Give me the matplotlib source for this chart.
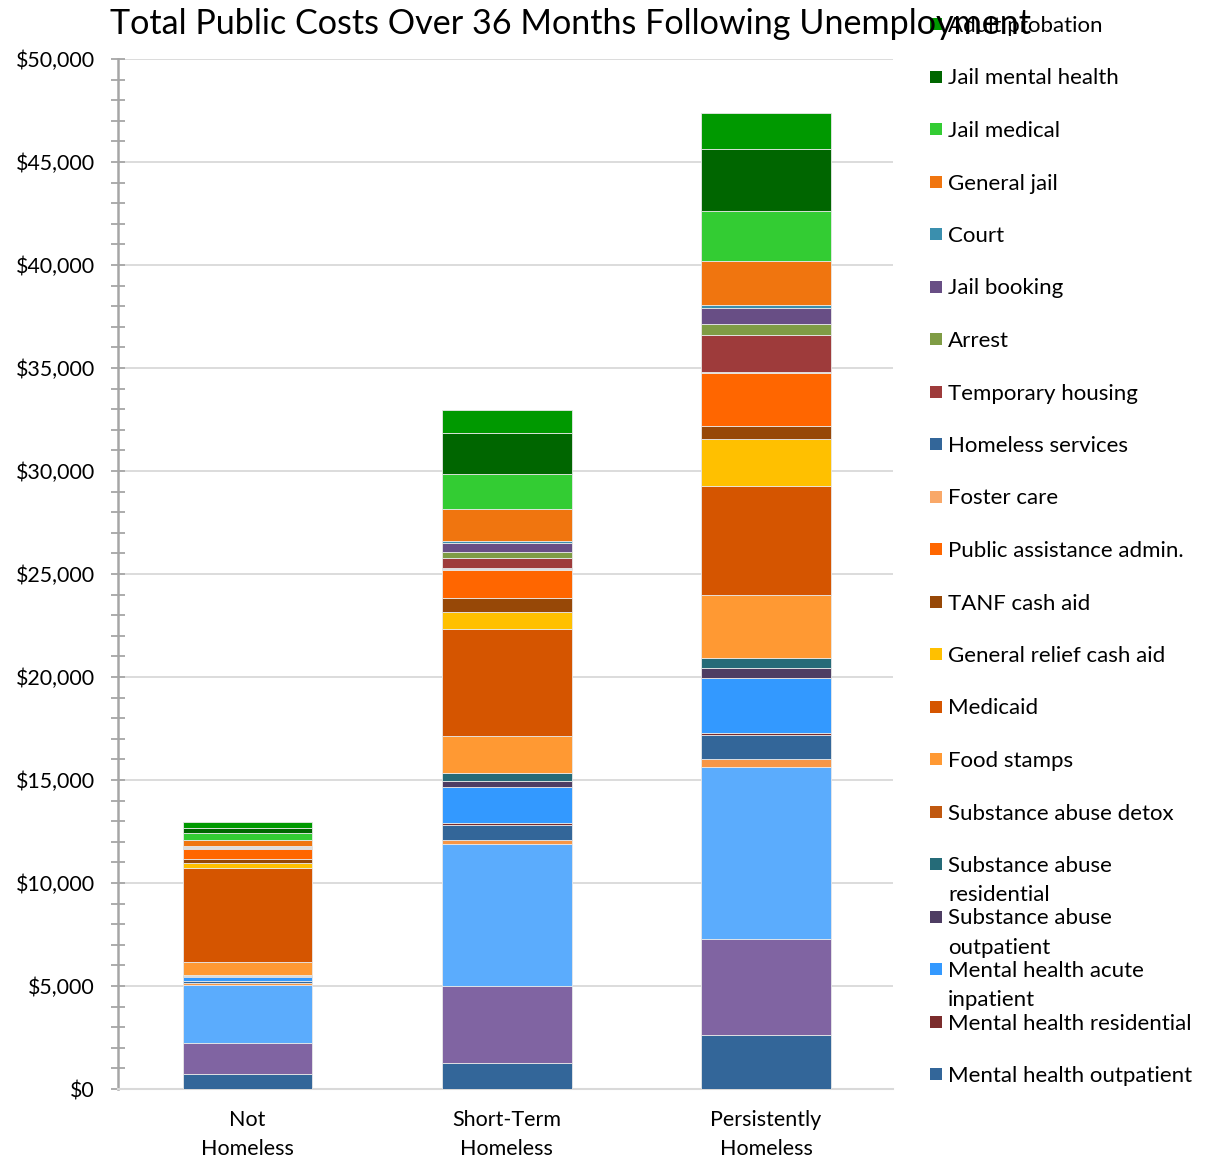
import numpy as np
import matplotlib.pyplot as plt
from matplotlib.patches import Rectangle
from matplotlib.ticker import MultipleLocator, FuncFormatter

plt.rcParams['font.family'] = ['Lato', 'DejaVu Sans']

# groups on the x axis
groups = ['Not\nHomeless', 'Short-Term\nHomeless', 'Persistently\nHomeless']

# cost components, bottom of the stack first (values in $)
# the four lowest series have no legend entry in the original chart
other_1 = [710, 1250, 2620]
other_2 = [1540, 3760, 4650]
other_3 = [2780, 6870, 8380]
other_4 = [110, 190, 350]
mh_outpatient = [100, 760, 1170]
mh_residential = [10, 70, 110]
mh_acute = [210, 1760, 2690]
sa_outpatient = [40, 290, 450]
sa_residential = [10, 380, 490]
sa_detox = [0, 0, 0]
food_stamps = [670, 1810, 3070]
medicaid = [4570, 5210, 5310]
general_relief = [220, 810, 2260]
tanf = [190, 670, 620]
public_assist = [490, 1380, 2570]
foster_care = [20, 50, 60]
homeless_services = [0, 30, 20]
temp_housing = [30, 490, 1780]
arrest = [30, 290, 520]
jail_booking = [50, 450, 780]
court = [20, 70, 140]
general_jail = [270, 1580, 2140]
jail_medical = [370, 1680, 2440]
jail_mental_health = [240, 1980, 3030]
adult_probation = [300, 1130, 1750]

# (label, values, colour, shown in legend)
series = [
    ('Other 1', other_1, '#336699', False),
    ('Other 2', other_2, '#8064A2', False),
    ('Other 3', other_3, '#5BACFD', False),
    ('Other 4', other_4, '#F79646', False),
    ('Mental health outpatient', mh_outpatient, '#336699', True),
    ('Mental health residential', mh_residential, '#7B2C2C', True),
    ('Mental health acute\ninpatient', mh_acute, '#3399FF', True),
    ('Substance abuse\noutpatient', sa_outpatient, '#4E3D63', True),
    ('Substance abuse\nresidential', sa_residential, '#256B78', True),
    ('Substance abuse detox', sa_detox, '#C0580F', True),
    ('Food stamps', food_stamps, '#FF9933', True),
    ('Medicaid', medicaid, '#D55500', True),
    ('General relief cash aid', general_relief, '#FFC000', True),
    ('TANF cash aid', tanf, '#974807', True),
    ('Public assistance admin.', public_assist, '#FF6600', True),
    ('Foster care', foster_care, '#F9A868', True),
    ('Homeless services', homeless_services, '#336699', True),
    ('Temporary housing', temp_housing, '#9E3B3B', True),
    ('Arrest', arrest, '#7F9C45', True),
    ('Jail booking', jail_booking, '#684E85', True),
    ('Court', court, '#3A8FAE', True),
    ('General jail', general_jail, '#F0750F', True),
    ('Jail medical', jail_medical, '#33CC33', True),
    ('Jail mental health', jail_mental_health, '#006600', True),
    ('Adult probation', adult_probation, '#009900', True),
]

W, H = 1211, 1159
fig = plt.figure(figsize=(W / 100, H / 100), dpi=100)
ax = fig.add_axes([118 / W, 70 / H, 775 / W, 1030 / H])

x = np.arange(len(groups))
bottom = np.zeros(len(groups))
for name, vals, color, _ in series:
    vals = np.array(vals, dtype=float)
    ax.bar(x, vals, 0.5, bottom=bottom, color=color, edgecolor='#e8e8e8',
           linewidth=0.6, zorder=3)
    bottom += vals

ax.set_xlim(-0.5, 2.49)
ax.set_ylim(0, 50000)
ax.yaxis.set_major_locator(MultipleLocator(5000))
ax.yaxis.set_minor_locator(MultipleLocator(1000))
ax.yaxis.set_major_formatter(FuncFormatter(lambda v, p: f'${v:,.0f}'))
ax.grid(axis='y', which='major', color='#D9D9D9', linewidth=1.3, zorder=0)

ax.set_xticks(x)
ax.set_xticklabels(groups, fontsize=15.5, linespacing=1.6)
ax.tick_params(axis='x', length=0, pad=15)
ax.tick_params(axis='y', which='both', direction='inout', length=10,
               color='#A6A6A6', width=1.3, labelsize=15.4, pad=11.5)

for s in ['top', 'right']:
    ax.spines[s].set_visible(False)
ax.spines['left'].set_color('#A6A6A6')
ax.spines['left'].set_linewidth(1.8)
ax.spines['bottom'].set_color('#D9D9D9')
ax.spines['bottom'].set_linewidth(1.5)

fig.text(570 / W, 1 - 24 / H, 'Total Public Costs Over 36 Months Following Unemployment',
         fontsize=24.6, ha='center', va='center')

# legend drawn by hand, top entry = last series
legend_items = [(n, c) for n, v, c, show in series if show][::-1]
for i, (name, color) in enumerate(legend_items):
    yc = 24 + 52.5 * i
    fig.patches.append(Rectangle((930 / W, 1 - (yc + 6) / H), 12 / W, 12 / H,
                                 transform=fig.transFigure, facecolor=color,
                                 edgecolor='none'))
    for j, line in enumerate(name.split('\n')):
        fig.text(948 / W, 1 - (yc + 8 + 29 * j) / H, line, fontsize=16,
                 ha='left', va='baseline')

fig.savefig('out.png', dpi=100)
